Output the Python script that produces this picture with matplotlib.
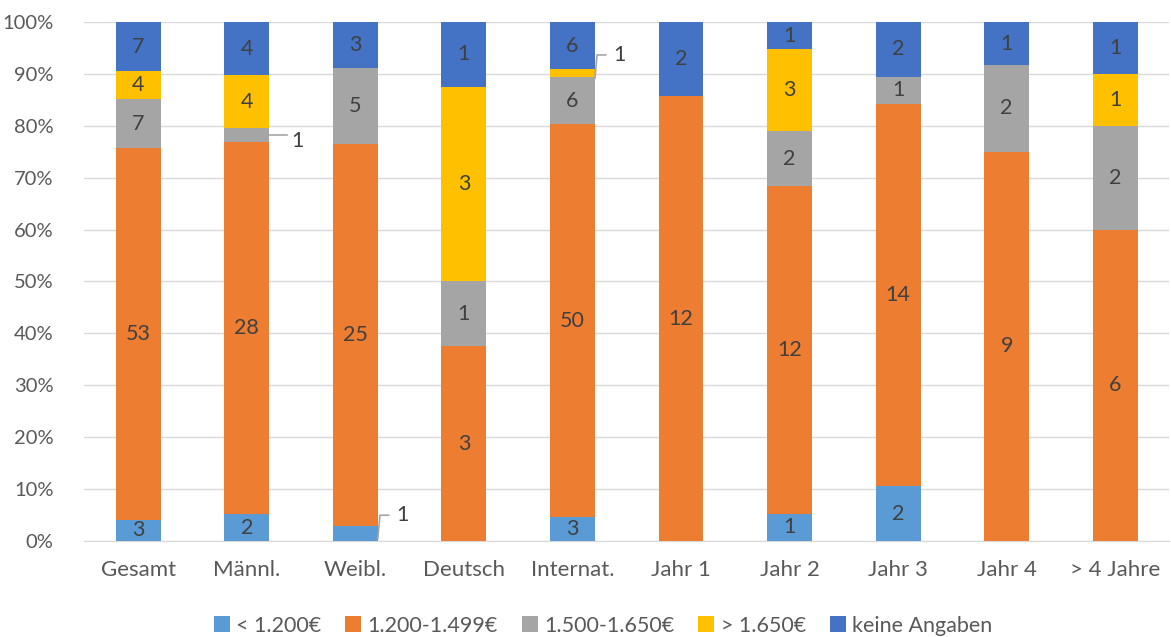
import matplotlib
matplotlib.use("Agg")
import matplotlib.pyplot as plt
import numpy as np
from matplotlib.ticker import PercentFormatter
from matplotlib.patches import Patch

plt.rcParams['font.family'] = ['Lato', 'DejaVu Sans']

categories = ["Gesamt", "Männl.", "Weibl.", "Deutsch", "Internat.",
              "Jahr 1", "Jahr 2", "Jahr 3", "Jahr 4", "> 4 Jahre"]
series_names = ["< 1.200€", "1.200-1.499€", "1.500-1.650€", "> 1.650€", "keine Angaben"]
under_1200 = [3, 2, 1, 0, 3, 0, 1, 2, 0, 0]
mid_1200_1499 = [53, 28, 25, 3, 50, 12, 12, 14, 9, 6]
mid_1500_1650 = [7, 1, 5, 1, 6, 0, 2, 1, 2, 2]
over_1650 = [4, 4, 0, 3, 1, 0, 3, 0, 0, 1]
no_answer = [7, 4, 3, 1, 6, 2, 1, 2, 1, 1]
colors = ["#5B9BD5", "#ED7D31", "#A5A5A5", "#FFC000", "#4472C4"]

counts = np.array([under_1200, mid_1200_1499, mid_1500_1650, over_1650, no_answer], dtype=float)
totals = counts.sum(axis=0)
shares = counts / totals * 100

# segments labelled with a callout instead of an inside label: (series, category)
callouts = {(2, 1), (0, 2), (3, 4)}

fig = plt.figure(figsize=(11.71, 6.37), dpi=100)
ax = fig.add_axes([0.0717, 0.1507, 0.927, 0.8148])
x = np.arange(len(categories))
width = 0.414
bottom = np.zeros(len(categories))
text_color = "#404040"
label_size = 15.5
for s in range(len(series_names)):
    ax.bar(x, shares[s], width, bottom=bottom, color=colors[s], zorder=3)
    for i in range(len(categories)):
        if counts[s, i] == 0:
            continue
        mid = bottom[i] + shares[s, i] / 2
        if (s, i) in callouts:
            xe = x[i] + width / 2
            if (s, i) == (2, 1):
                ax.plot([xe, xe + 0.16], [mid, mid], color="#A6A6A6", lw=1.2, zorder=4)
                ax.text(xe + 0.2, mid - 1.2, f"{int(counts[s, i])}", ha="left", va="center",
                        fontsize=label_size, color=text_color)
            else:
                ty = mid + 3.5
                ax.plot([xe, xe + 0.02, xe + 0.1], [mid - 1.0, ty, ty], color="#A6A6A6",
                        lw=1.2, zorder=4)
                ax.text(xe + 0.17, ty, f"{int(counts[s, i])}", ha="left", va="center",
                        fontsize=label_size, color=text_color)
        else:
            ax.text(x[i], mid, f"{int(counts[s, i])}", ha="center", va="center",
                    fontsize=label_size, color=text_color, zorder=5)
    bottom += shares[s]

ax.set_xlim(-0.5, len(categories) - 0.5)
ax.set_ylim(0, 100)
ax.set_yticks(np.arange(0, 101, 10))
ax.yaxis.set_major_formatter(PercentFormatter(decimals=0))
ax.set_xticks(x)
ax.set_xticklabels(categories)
ax.tick_params(axis="both", length=0, colors="#595959")
ax.tick_params(axis="x", pad=14, labelsize=16)
ax.tick_params(axis="y", pad=22, labelsize=14.5)
ax.grid(axis="y", color="#D9D9D9", lw=1, zorder=0)
for sp in ["top", "right", "left"]:
    ax.spines[sp].set_visible(False)
ax.spines["bottom"].set_color("#D9D9D9")

handles = [Patch(facecolor=c) for c in colors]
fig.legend(handles, series_names, loc="center", bbox_to_anchor=(0.515, 0.018), ncol=5,
           frameon=False, fontsize=15.5, handlelength=0.75, handleheight=0.75,
           handletextpad=0.3, columnspacing=1.1, labelcolor="#595959")

fig.savefig("out.png", dpi=100)
